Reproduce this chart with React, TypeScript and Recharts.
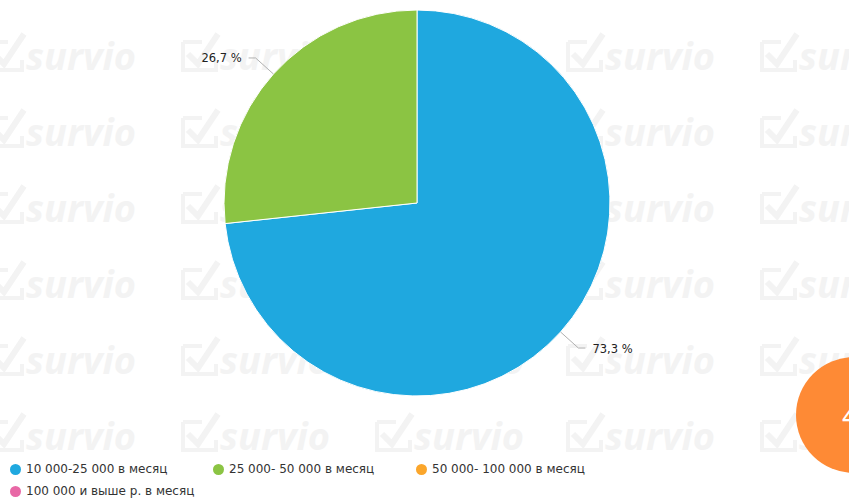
import { PieChart, Pie, Cell } from "recharts";

const categories = [
  "10 000-25 000 в месяц",
  "25 000- 50 000 в месяц",
  "50 000- 100 000 в месяц",
  "100 000 и выше р. в месяц",
];
const shares = [73.3, 26.7, 0, 0];
const colors = ["#1fa8df", "#8bc443", "#fba62b", "#e868a6"];

const wmCols = [-14, 180, 374, 565, 759];
const wmRows = [70, 146, 222, 298, 374, 450];

const data = categories.map((name, i) => ({ name, value: shares[i] }));

const RAD = Math.PI / 180;

function renderLabel(props: any) {
  const { cx, cy, midAngle, outerRadius, value } = props;
  if (!value) return null;
  const cos = Math.cos(-midAngle * RAD);
  const sin = Math.sin(-midAngle * RAD);
  const x0 = cx + outerRadius * cos;
  const y0 = cy + outerRadius * sin;
  const x1 = cx + (outerRadius + 24) * cos;
  const y1 = cy + (outerRadius + 24) * sin;
  const dir = cos >= 0 ? 1 : -1;
  const x2 = x1 + dir * 7;
  return (
    <g>
      <path
        d={`M${x0},${y0} L${x1},${y1} L${x2},${y1}`}
        stroke="#b0b0b0"
        strokeWidth={1}
        fill="none"
      />
      <text
        x={x2 + dir * 7}
        y={y1 + 1}
        textAnchor={dir > 0 ? "start" : "end"}
        dominantBaseline="middle"
        fontSize={11.5}
        fill="#222"
        fontFamily="DejaVu Sans"
      >
        {value.toFixed(1).replace(".", ",")} %
      </text>
    </g>
  );
}

function Watermark() {
  return (
    <svg width={849} height={498} style={{ position: "absolute", left: 0, top: 0 }}>
      {wmRows.map((y) =>
        wmCols.map((x) => (
          <g key={`${x}-${y}`} fill="none" stroke="#f3f3f3">
            <path d={`M${x + 3},${y - 28} L${x + 3},${y} L${x + 36},${y} L${x + 36},${y - 10}`} strokeWidth={4} />
            <path d={`M${x + 3},${y - 28} L${x + 22},${y - 28}`} strokeWidth={4} />
            <path d={`M${x + 8},${y - 16} L${x + 18},${y - 6} L${x + 38},${y - 36}`} strokeWidth={6} />
            <text
              x={x + 40}
              y={y}
              fontFamily="Open Sans"
              fontWeight={700}
              fontStyle="italic"
              fontSize={38}
              fill="#f3f3f3"
              stroke="none"
            >
              survio
            </text>
          </g>
        ))
      )}
    </svg>
  );
}

export default function App() {
  return (
    <div
      style={{
        position: "absolute",
        left: 0,
        top: 0,
        width: 849,
        height: 498,
        overflow: "hidden",
        background: "#fff",
      }}
    >
      <Watermark />
      <div style={{ position: "absolute", left: 0, top: 0 }}>
        <PieChart width={849} height={498} margin={{ top: 0, right: 0, bottom: 0, left: 0 }}>
          <Pie
            data={data}
            dataKey="value"
            nameKey="name"
            cx={417}
            cy={203}
            outerRadius={193}
            startAngle={90}
            endAngle={-270}
            stroke="#ffffff"
            strokeWidth={1}
            label={renderLabel}
            labelLine={false}
            isAnimationActive={false}
          >
            {data.map((d, i) => (
              <Cell key={d.name} fill={colors[i]} />
            ))}
          </Pie>
        </PieChart>
      </div>
      <div
        style={{
          position: "absolute",
          left: 10,
          top: 458,
          width: 640,
          display: "flex",
          flexWrap: "wrap",
          fontFamily: "DejaVu Sans",
          fontSize: 12,
          color: "#333",
        }}
      >
        {categories.map((c, i) => (
          <div
            key={c}
            style={{ width: 203, height: 22, display: "flex", alignItems: "center", whiteSpace: "nowrap" }}
          >
            <span
              style={{
                width: 11,
                height: 11,
                borderRadius: "50%",
                background: colors[i],
                marginRight: 5,
                display: "inline-block",
              }}
            />
            {c}
          </div>
        ))}
      </div>
      <div
        style={{
          position: "absolute",
          left: 796,
          top: 357,
          width: 116,
          height: 116,
          borderRadius: "50%",
          background: "#fe8a35",
          color: "#fff",
          fontFamily: "Open Sans",
          fontSize: 30,
          lineHeight: "116px",
          paddingLeft: 46,
          boxSizing: "border-box",
        }}
      >
        4
      </div>
    </div>
  );
}
